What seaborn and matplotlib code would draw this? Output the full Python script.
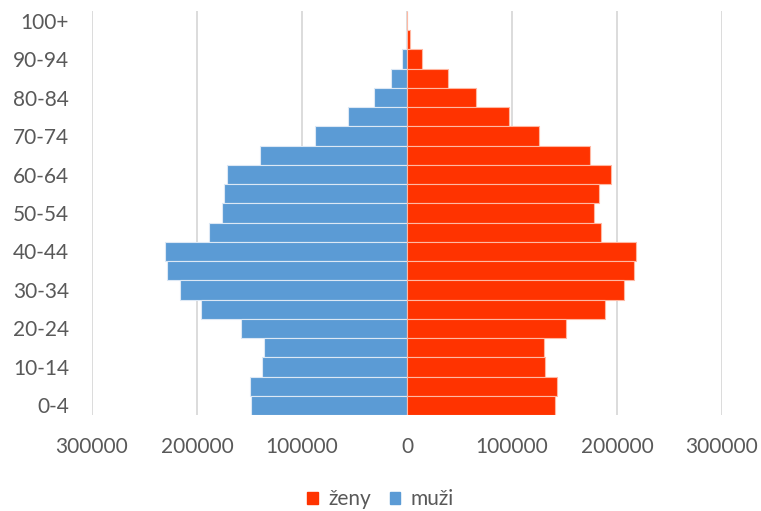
import numpy as np
import pandas as pd
import seaborn as sns
from matplotlib import pyplot as plt
from matplotlib.ticker import FuncFormatter
from matplotlib.patches import Patch

# age groups from youngest to oldest
vek = ['0-4', '5-9', '10-14', '15-19', '20-24', '25-29', '30-34', '35-39',
       '40-44', '45-49', '50-54', '55-59', '60-64', '65-69', '70-74',
       '75-79', '80-84', '85-89', '90-94', '95-99', '100+']
muzi = [148300, 149500, 138400, 136500, 158400, 195900, 215900, 228900,
        230200, 188600, 176500, 174600, 171700, 140300, 87300,
        55900, 31100, 15500, 4500, 900, 100]
zeny = [141200, 142900, 131700, 130200, 151100, 188300, 207000, 215900,
        218400, 184500, 178400, 182900, 194000, 174000, 125700,
        96800, 66000, 39300, 14000, 3200, 400]

col_muzi = '#5B9BD5'
col_zeny = '#FF3300'
text_col = '#595959'

df = pd.DataFrame({'vek': vek, 'muzi': [-v for v in muzi], 'zeny': zeny})
order = vek[::-1]  # oldest on top

sns.set_style('white')
plt.rcParams['font.family'] = ['Lato', 'DejaVu Sans']

fig = plt.figure(figsize=(7.61, 5.11), dpi=100)
ax = fig.add_axes([92 / 761, 1 - 415 / 511, (722 - 92) / 761, (415 - 11) / 511])

sns.barplot(data=df, x='muzi', y='vek', order=order, color=col_muzi,
            width=1.0, saturation=1, edgecolor='#dce8f5', linewidth=0.8, ax=ax)
sns.barplot(data=df, x='zeny', y='vek', order=order, color=col_zeny,
            width=1.0, saturation=1, edgecolor='#ffb8a3', linewidth=0.8, ax=ax)

ax.set_xlim(-300000, 300000)
ax.set_ylim(20.5, -0.5)
ax.set_xticks(np.arange(-300000, 300001, 100000))
ax.xaxis.set_major_formatter(FuncFormatter(lambda v, p: f'{abs(int(v))}'))
ax.grid(axis='x', color='#D9D9D9', linewidth=1.3)
ax.set_axisbelow(True)

# label every other age group
ylabels = [lab if (20 - i) % 2 == 0 else '' for i, lab in enumerate(order)]
ax.set_yticks(range(len(order)))
ax.set_yticklabels(ylabels)

ax.tick_params(axis='both', length=0, labelsize=15, colors=text_col)
ax.tick_params(axis='x', pad=16)
ax.tick_params(axis='y', pad=16.5)
ax.set_xlabel('')
ax.set_ylabel('')
for s in ax.spines.values():
    s.set_visible(False)

handles = [Patch(color=col_zeny, label='ženy'), Patch(color=col_muzi, label='muži')]
fig.legend(handles=handles, loc='center', bbox_to_anchor=(0.5, 1 - 499 / 511),
           ncol=2, frameon=False, fontsize=15, handlelength=0.5, handleheight=0.5,
           handletextpad=0.5, columnspacing=0.9, labelcolor=text_col)

fig.savefig('out.png', dpi=100)
